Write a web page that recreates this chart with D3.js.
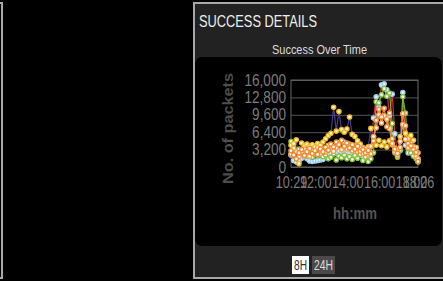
<!DOCTYPE html>
<html>
<head>
<meta charset="utf-8">
<script src="https://cdn.jsdelivr.net/npm/d3@7"></script>
<style>
  html, body { margin: 0; padding: 0; background: #000; overflow: hidden; }
  svg { display: block; }
</style>
</head>
<body>
<svg id="chart" width="443" height="281"></svg>
<script>
// sample times (hh:mm), one every 10 minutes
const times = ['10:29','10:39','10:49','10:59','11:09','11:19','11:29','11:39','11:49','11:59',
  '12:09','12:19','12:29','12:39','12:49','12:59','13:09','13:19','13:29','13:39',
  '13:49','13:59','14:09','14:19','14:29','14:39','14:49','14:59','15:09','15:19',
  '15:29','15:39','15:49','15:59','16:09','16:19','16:29','16:39','16:49','16:59',
  '17:09','17:19','17:29','17:39','17:49','17:59','18:09','18:19','18:26'];

const xTickLabels = ['10:29', '12:00', '14:00', '16:00', '18:00', '18:26'];
const yTickValues = [0, 3200, 6400, 9600, 12800, 16000];

// packets per series
const blueSeries = [2200,1200,900,1100,1600,1900,1500,1100,1000,1100,
  1200,1300,1400,2000,2400,2600,2900,2500,3000,2700,
  2600,2800,2400,2200,2500,2100,2300,1900,2000,2200,
  2600,9000,12900,11000,15100,15300,14200,9500,13400,6100,
  2400,3000,13700,4000,2600,2900,2200,1800,1400];
const greenSeries = [4700,3600,2900,3300,2400,2800,2000,2600,1800,2300,
  2100,2700,1900,2200,1500,1800,2400,1300,2000,1700,
  2200,1500,1900,1400,2100,1600,2300,1200,1800,1000,
  1500,2600,12000,11800,13300,14400,13000,13600,8000,2600,
  1800,3100,12900,9900,3400,2600,2000,1500,900];
const yellowSeries = [4000,4300,5000,600,4400,3900,4200,3800,4100,3700,
  4300,4000,4600,5200,5800,6200,11000,6600,10200,6900,
  6400,7000,9200,6000,5600,4800,4200,3600,3300,3700,
  7100,5500,4000,4900,3900,4600,3700,4800,4100,3500,
  3200,5600,9800,6200,5200,5800,4900,3600,2600];
const orangeSeries = [3000,2200,1500,2600,3200,2100,2800,3400,2500,3000,
  2300,3300,2800,3600,3100,4200,3700,4600,4100,4900,
  3800,4400,3500,4100,3300,3800,2900,3200,2600,3000,
  2400,4800,8600,10600,9200,10800,7400,9900,5200,3300,
  2500,3600,9800,7600,4300,3900,3200,2700,1000];
const peachSeries = [2400,3400,2800,1900,2700,3300,2300,2000,3100,2600,
  3500,2400,3400,2700,4000,3300,2900,3500,4500,3200,
  4600,3300,4200,3000,4000,2800,3500,2500,3400,2200,
  3800,5600,7200,9600,8100,9400,8800,7100,4300,2800,
  2100,4700,7800,5100,3600,4400,3700,1900,1500];

const seriesList = [
  { values: blueSeries, line: '#d8283a', stroke: '#9fcdee', fill: '#e6f3fc' },
  { values: greenSeries, line: '#78b23a', stroke: '#86c23c', fill: '#ffffff' },
  { values: yellowSeries, line: '#4c3a8c', stroke: '#f6b91a', fill: '#fff6d8' },
  { values: peachSeries, line: '#f59a45', stroke: '#f7a050', fill: '#ffffff' },
  { values: orangeSeries, line: '#f28a2e', stroke: '#f28a2e', fill: '#ffffff' }
];

const narrow = "'Liberation Sans Narrow', 'Arial Narrow', 'Liberation Sans', sans-serif";
const bold = "'Liberation Sans', Arial, sans-serif";

// squeeze a label to the narrow width it has in the original
function narrowWidth(str, digitW, punctW) {
  return str.split('').reduce((w, c) => w + (/[0-9]/.test(c) ? digitW : punctW), 0);
}

const svg = d3.select('#chart');
const parseTime = d3.timeParse('%H:%M');

/* ---------- panels ---------- */
// edge of the panel on the left
svg.append('rect')
  .attr('x', -300).attr('y', 3).attr('width', 302).attr('height', 275)
  .attr('fill', '#000').attr('stroke', '#a8a8a8').attr('stroke-width', 2);

svg.append('rect')
  .attr('x', 194).attr('y', 3).attr('width', 270).attr('height', 275)
  .attr('fill', '#222').attr('stroke', '#a8a8a8').attr('stroke-width', 2);

svg.append('text')
  .attr('x', 199).attr('y', 27)
  .attr('font-family', narrow).attr('font-size', 17)
  .attr('fill', '#eee')
  .attr('textLength', 118).attr('lengthAdjust', 'spacingAndGlyphs')
  .text('SUCCESS DETAILS');

svg.append('text')
  .attr('x', 319.5).attr('y', 54)
  .attr('text-anchor', 'middle')
  .attr('font-family', narrow).attr('font-size', 13.5)
  .attr('fill', '#ddd')
  .attr('textLength', 95).attr('lengthAdjust', 'spacingAndGlyphs')
  .text('Success Over Time');

svg.append('rect')
  .attr('x', 195).attr('y', 57).attr('width', 247).attr('height', 189)
  .attr('rx', 7).attr('fill', '#000');

/* ---------- scales ---------- */
const plot = { left: 291, right: 418, top: 80, bottom: 167 };

const x = d3.scaleTime()
  .domain([parseTime(xTickLabels[0]), parseTime(xTickLabels[xTickLabels.length - 1])])
  .range([plot.left, plot.right]);

const y = d3.scaleLinear()
  .domain([0, 16000])
  .range([plot.bottom, plot.top]);

/* ---------- axes ---------- */
const yAxisGroup = svg.append('g')
  .attr('transform', `translate(${plot.left},0)`)
  .call(d3.axisLeft(y)
    .tickValues(yTickValues)
    .tickSize(-(plot.right - plot.left))
    .tickPadding(5)
    .tickFormat(d3.format(',')));
yAxisGroup.select('.domain').remove();
yAxisGroup.selectAll('line').attr('stroke', '#555');
yAxisGroup.selectAll('text')
  .attr('font-family', narrow).attr('font-size', 16)
  .attr('fill', '#7c7c7c')
  .attr('textLength', function () { return narrowWidth(this.textContent, 7.6, 3.5); })
  .attr('lengthAdjust', 'spacingAndGlyphs');

svg.append('rect')
  .attr('x', plot.left).attr('y', plot.top)
  .attr('width', plot.right - plot.left).attr('height', plot.bottom - plot.top)
  .attr('fill', 'none').attr('stroke', '#666');

const xAxisGroup = svg.append('g')
  .attr('transform', `translate(0,${plot.bottom})`)
  .call(d3.axisBottom(x)
    .tickValues(xTickLabels.map(parseTime))
    .tickSize(0)
    .tickPadding(9)
    .tickFormat(d3.timeFormat('%H:%M')));
xAxisGroup.select('.domain').remove();
xAxisGroup.selectAll('text')
  .attr('font-family', narrow).attr('font-size', 17)
  .attr('fill', '#7c7c7c')
  .attr('textLength', function () { return narrowWidth(this.textContent, 7, 3.5); })
  .attr('lengthAdjust', 'spacingAndGlyphs');

svg.append('text')
  .attr('transform', 'translate(233,128.5) rotate(-90)')
  .attr('text-anchor', 'middle')
  .attr('font-family', bold).attr('font-weight', 'bold').attr('font-size', 15)
  .attr('fill', '#4d4d4d')
  .attr('textLength', 111).attr('lengthAdjust', 'spacingAndGlyphs')
  .text('No. of packets');

svg.append('text')
  .attr('x', 355).attr('y', 219)
  .attr('text-anchor', 'middle')
  .attr('font-family', bold).attr('font-weight', 'bold').attr('font-size', 16)
  .attr('fill', '#555')
  .attr('textLength', 44).attr('lengthAdjust', 'spacingAndGlyphs')
  .text('hh:mm');

/* ---------- series ---------- */
const timeValues = times.map(parseTime);
const line = d3.line()
  .x((d, i) => x(timeValues[i]))
  .y((d) => y(d));

const lineLayer = svg.append('g');
const markerLayer = svg.append('g');

seriesList.forEach((s) => {
  lineLayer.append('path')
    .datum(s.values)
    .attr('fill', 'none')
    .attr('stroke', s.line)
    .attr('stroke-width', 1.2)
    .attr('d', line);
});

seriesList.forEach((s) => {
  markerLayer.selectAll(null)
    .data(s.values)
    .enter()
    .append('circle')
    .attr('cx', (d, i) => x(timeValues[i]))
    .attr('cy', (d) => y(d))
    .attr('r', 2.1)
    .attr('fill', s.fill)
    .attr('stroke', s.stroke)
    .attr('stroke-width', 1.4);
});

/* ---------- range buttons ---------- */
svg.append('rect')
  .attr('x', 292).attr('y', 256).attr('width', 17).attr('height', 18)
  .attr('fill', '#fff');
svg.append('text')
  .attr('x', 300.5).attr('y', 270)
  .attr('text-anchor', 'middle')
  .attr('font-family', narrow).attr('font-size', 15)
  .attr('fill', '#333')
  .attr('textLength', 13).attr('lengthAdjust', 'spacingAndGlyphs')
  .text('8H');

svg.append('rect')
  .attr('x', 312).attr('y', 256).attr('width', 23).attr('height', 18)
  .attr('fill', '#4a4a4a');
svg.append('text')
  .attr('x', 323.5).attr('y', 270)
  .attr('text-anchor', 'middle')
  .attr('font-family', narrow).attr('font-size', 15)
  .attr('fill', '#ddd')
  .attr('textLength', 19).attr('lengthAdjust', 'spacingAndGlyphs')
  .text('24H');
</script>
</body>
</html>
